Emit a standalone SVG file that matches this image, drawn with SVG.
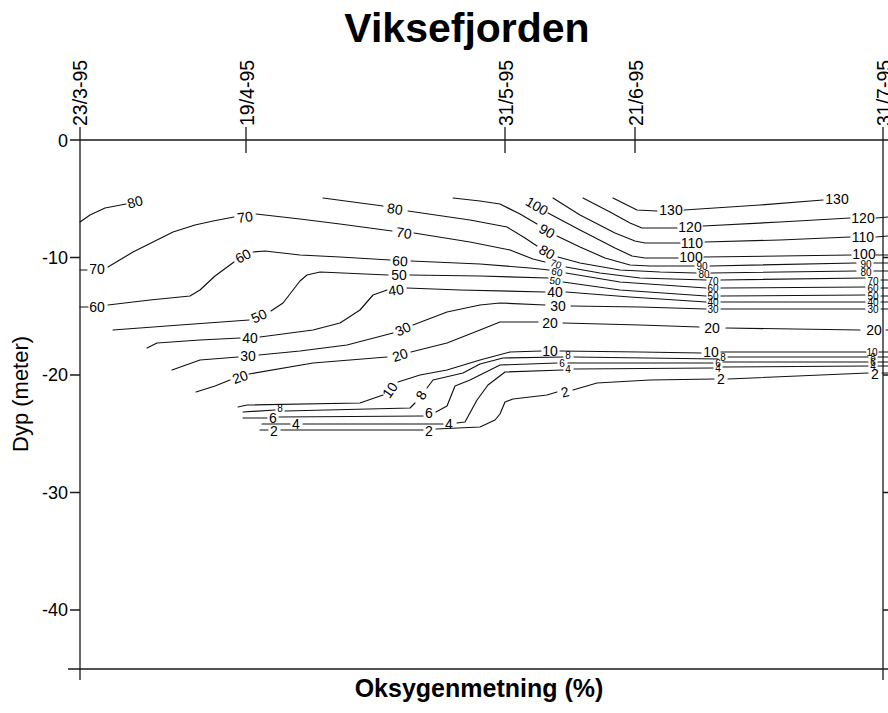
<svg xmlns="http://www.w3.org/2000/svg" width="888" height="713" viewBox="0 0 888 713">
<style>
.ax{stroke:#1a1a1a;stroke-width:1.3;fill:none}
.c{stroke:#111;stroke-width:1.15;fill:none;stroke-linejoin:round;stroke-linecap:round}
.t{font-family:"Liberation Sans",Arial,sans-serif;fill:#000}
.lb{font-family:"Liberation Sans",Arial,sans-serif;font-size:14px;text-anchor:middle;dominant-baseline:central;fill:#000}
.sm{font-size:10px}
.date{font-family:"Liberation Sans",Arial,sans-serif;font-size:19.5px;fill:#000}
.yl{font-family:"Liberation Sans",Arial,sans-serif;font-size:18px;text-anchor:end;fill:#000}
</style>
<rect width="888" height="713" fill="#fff"/>
<g id="title"><text class="t" x="467" y="42" font-size="41" font-weight="bold" text-anchor="middle">Viksefjorden</text></g>
<g id="axes">
<path class="ax" d="M70,140H888M68,669H888M80,127V680M883,127V680"/>
<path class="ax" d="M246,127V153M505,127V153M635,127V153M70,257.5H80M70,375H80M70,492.5H80M70,610H80M883,257.5H888M883,375H888M883,492.5H888M883,610H888"/>
<text class="date" transform="translate(87,126) rotate(-90)">23/3-95</text>
<text class="date" transform="translate(254,126) rotate(-90)">19/4-95</text>
<text class="date" transform="translate(513,126) rotate(-90)">31/5-95</text>
<text class="date" transform="translate(643,126) rotate(-90)">21/6-95</text>
<text class="date" transform="translate(891,126) rotate(-90)">31/7-95</text>
<text class="yl" x="68" y="147">0</text>
<text class="yl" x="68" y="264">-10</text>
<text class="yl" x="68" y="381">-20</text>
<text class="yl" x="68" y="499">-30</text>
<text class="yl" x="68" y="616">-40</text>
<text class="t" transform="translate(28,452) rotate(-90)" font-size="22">Dyp (meter)</text>
<text class="t" x="479" y="697" font-size="25" font-weight="bold" text-anchor="middle">Oksygenmetning (%)</text>
</g>
<g id="contours">
<path id="c130" class="c" d="M613,198L625,204L637,210L657,211M684,210L760,205L823,200"/>
<path id="c120" class="c" d="M583,198L610,212L630,223L642,228L677,228M703,226L780,222L850,218M876,218L888,217"/>
<path id="c110" class="c" d="M553,198L580,215L615,233L635,241L645,243L680,243M705,242L780,240L850,237M876,237L888,236"/>
<path id="c100" class="c" d="M548,213L580,230L615,248L632,256L645,258L678,258M704,257L780,256L851,255M876,255L888,255"/>
<path id="c90" class="c" d="M453,198L480,201L500,204L520,214L537,224M557,236L580,247L605,258L630,265L650,266L694,266M710,266L856,263M874,263L888,263"/>
<path id="c80" class="c" d="M323,198L383,206M408,211L470,220L507,227L525,238L537,246M558,257L580,263L620,270L660,272L696,273M711,273L856,271M874,271L888,271"/>
<path id="c80a" class="c" d="M80,222L90,215L105,208L126,204"/>
<path id="c70" class="c" d="M80,270L87,270M108,267L133,252L153,242L173,232L195,225L213,221L234,217M256,214L300,219L340,224L392,231M414,233L470,242L510,250L533,259L545,262M566,267L600,273L640,278L706,280M721,280L865,278M881,280L888,280"/>
<path id="c60" class="c" d="M80,307L88,307M108,305L150,300L190,296L200,290L215,276L234,262M253,252L265,251L300,255L340,257L390,260M411,261L480,264L530,268L549,270M566,273L620,282L706,288M721,288L865,287M881,288L888,288"/>
<path id="c50" class="c" d="M113,330L180,325L249,320M271,311L283,303L300,281L307,275L320,272L388,275M410,275L480,276L548,278M563,282L620,290L706,296M721,296L865,295M881,296L888,296"/>
<path id="c40" class="c" d="M147,348L157,343L200,340L240,338M260,337L313,330L340,323L360,310L373,295L387,290M407,288L460,290L545,292M566,292L630,297L706,302M721,302L865,302M881,302L888,302"/>
<path id="c30" class="c" d="M172,370L200,360L238,357M259,355L300,351L347,345L393,333M413,325L447,312L480,305L500,303L545,305M571,306L640,307L706,309M721,309L865,309M881,309L888,309"/>
<path id="c20" class="c" d="M196,392L215,386L230,380M249,374L313,363L387,357M411,352L447,343L480,330L500,322L538,322M563,323L640,325L699,327M726,328L860,330M886,330L888,330"/>
<path id="c10" class="c" d="M238,407L247,405L360,403L383,395M398,382L420,375L447,370L480,360L510,352L541,351M560,351L640,352L701,353M721,352L866,352M879,352L888,352"/>
<path id="c8" class="c" d="M243,412L275,410M285,411L410,408L415,403M427,388L433,380L463,373L480,364L503,358L563,357M574,357L718,359M728,357L868,357M878,357L888,357"/>
<path id="c6" class="c" d="M243,418L267,418M279,417L423,416M436,412L447,406L455,386L470,380L480,375L500,365L557,363M568,363L713,363M723,362L868,362M878,362L888,362"/>
<path id="c4" class="c" d="M262,424L290,424M303,424L443,424M457,423L465,422L477,400L488,385L505,372L563,370M574,369L713,368M723,367L868,366M878,366L888,366"/>
<path id="c2" class="c" d="M260,430L268,430M281,430L423,430M436,429L480,427L495,420L500,414L505,402L513,399L547,395L557,392M573,390L597,383L650,380L714,379M728,379L868,373M882,373L888,373"/>
</g>
<g id="labels">
<text class="lb" x="671" y="210">130</text>
<text class="lb" x="837" y="199">130</text>
<text class="lb" x="690" y="227">120</text>
<text class="lb" x="863" y="218">120</text>
<text class="lb" x="692" y="243">110</text>
<text class="lb" x="863" y="237">110</text>
<text class="lb" transform="rotate(30,537,206)" x="537" y="206">100</text>
<text class="lb" x="691" y="257">100</text>
<text class="lb" x="864" y="254">100</text>
<text class="lb" transform="rotate(30,547,231)" x="547" y="231">90</text>
<text class="lb sm" x="702" y="266">90</text>
<text class="lb sm" x="866" y="264">90</text>
<text class="lb" transform="rotate(8,395,209)" x="395" y="209">80</text>
<text class="lb" transform="rotate(30,547,252)" x="547" y="252">80</text>
<text class="lb sm" x="704" y="274">80</text>
<text class="lb sm" x="866" y="272">80</text>
<text class="lb" transform="rotate(-15,135,202)" x="135" y="202">80</text>
<text class="lb" x="97" y="269">70</text>
<text class="lb" transform="rotate(-8,245,217)" x="245" y="217">70</text>
<text class="lb" transform="rotate(8,404,233)" x="404" y="233">70</text>
<text class="lb sm" transform="rotate(20,556,264)" x="556" y="264">70</text>
<text class="lb sm" x="713" y="281">70</text>
<text class="lb sm" x="873" y="281">70</text>
<text class="lb" x="97" y="307">60</text>
<text class="lb" transform="rotate(-28,243,256)" x="243" y="256">60</text>
<text class="lb" transform="rotate(3,400,261)" x="400" y="261">60</text>
<text class="lb sm" transform="rotate(12,557,272)" x="557" y="272">60</text>
<text class="lb sm" x="713" y="288">60</text>
<text class="lb sm" x="873" y="288">60</text>
<text class="lb" transform="rotate(-25,259,316)" x="259" y="316">50</text>
<text class="lb" x="399" y="275">50</text>
<text class="lb sm" transform="rotate(10,555,281)" x="555" y="281">50</text>
<text class="lb sm" x="713" y="296">50</text>
<text class="lb sm" x="873" y="296">50</text>
<text class="lb" x="250" y="338">40</text>
<text class="lb" transform="rotate(-8,396,290)" x="396" y="290">40</text>
<text class="lb" x="555" y="292">40</text>
<text class="lb sm" x="713" y="302">40</text>
<text class="lb sm" x="873" y="302">40</text>
<text class="lb" x="248" y="356">30</text>
<text class="lb" transform="rotate(-25,403,329)" x="403" y="329">30</text>
<text class="lb" x="558" y="306">30</text>
<text class="lb sm" x="713" y="309">30</text>
<text class="lb sm" x="873" y="309">30</text>
<text class="lb" transform="rotate(-20,240,377)" x="240" y="377">20</text>
<text class="lb" transform="rotate(-18,400,355)" x="400" y="355">20</text>
<text class="lb" x="550" y="323">20</text>
<text class="lb" x="712" y="328">20</text>
<text class="lb" x="874" y="330">20</text>
<text class="lb" transform="rotate(-55,390,390)" x="390" y="390">10</text>
<text class="lb" x="550" y="351">10</text>
<text class="lb" x="711" y="352">10</text>
<text class="lb sm" x="872" y="352">10</text>
<text class="lb sm" x="280" y="408">8</text>
<text class="lb" transform="rotate(-60,421,395)" x="421" y="395">8</text>
<text class="lb sm" x="568" y="355">8</text>
<text class="lb sm" x="723" y="357">8</text>
<text class="lb sm" x="873" y="357">8</text>
<text class="lb" x="273" y="418">6</text>
<text class="lb" x="429" y="413">6</text>
<text class="lb sm" x="562" y="363">6</text>
<text class="lb sm" x="718" y="363">6</text>
<text class="lb sm" x="873" y="362">6</text>
<text class="lb" x="296" y="424">4</text>
<text class="lb" x="449" y="424">4</text>
<text class="lb sm" x="568" y="369">4</text>
<text class="lb sm" x="718" y="368">4</text>
<text class="lb sm" x="873" y="366">4</text>
<text class="lb" x="274" y="431">2</text>
<text class="lb" x="429" y="431">2</text>
<text class="lb" transform="rotate(-15,565,392)" x="565" y="392">2</text>
<text class="lb" x="721" y="379">2</text>
<text class="lb" x="875" y="374">2</text>
</g>
</svg>
